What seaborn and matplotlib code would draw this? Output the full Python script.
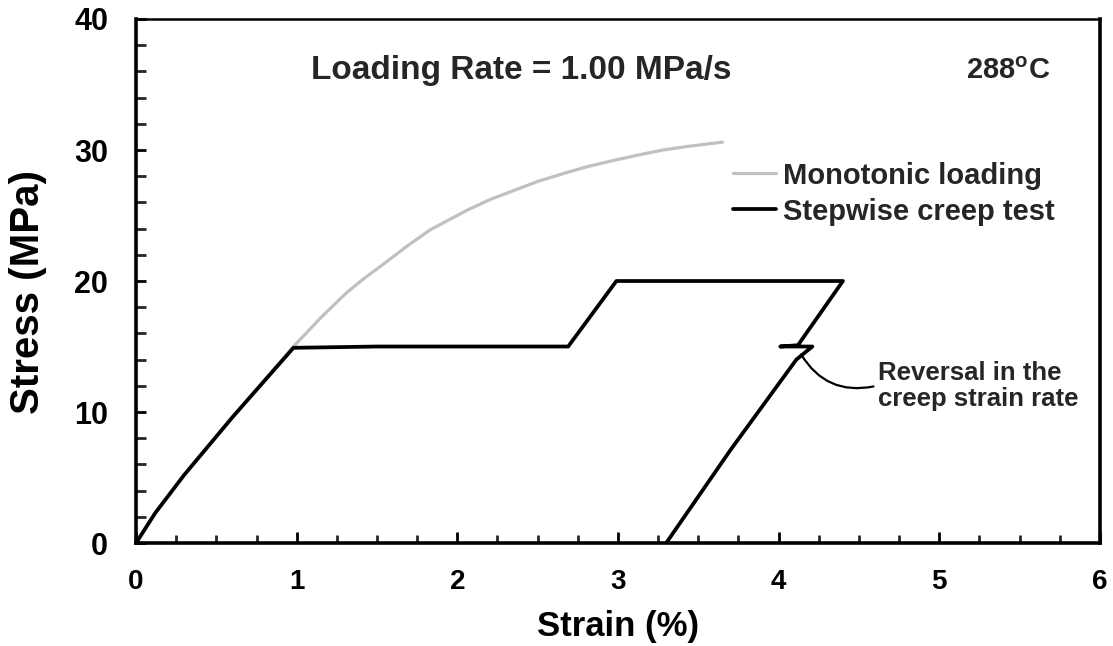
import matplotlib
matplotlib.use("Agg")
import matplotlib.pyplot as plt
import seaborn as sns
import pandas as pd
from matplotlib.ticker import MultipleLocator

# ---------------- data ----------------
mono_strain = [0, 0.12, 0.30, 0.60, 0.98, 1.05, 1.15, 1.31, 1.42, 1.52, 1.68, 1.83,
               2.06, 2.20, 2.35, 2.50, 2.66, 2.80, 2.97, 3.12, 3.28, 3.45, 3.65]
mono_stress = [0, 2.3, 5.2, 9.6, 15.0, 15.9, 17.2, 19.1, 20.2, 21.1, 22.6, 23.9,
               25.4, 26.2, 26.9, 27.6, 28.2, 28.7, 29.2, 29.6, 30.0, 30.3, 30.6]

step_strain = [0, 0.12, 0.30, 0.60, 0.98, 1.5, 2.0, 2.69, 2.99, 3.5, 4.0, 4.40,
               4.12, 4.01, 4.21, 4.11, 3.70, 3.30]
step_stress = [0, 2.3, 5.2, 9.6, 14.9, 15.0, 15.0, 15.0, 20.0, 20.0, 20.0, 20.0,
               15.1, 15.0, 15.0, 14.0, 7.1, 0.0]

series_names = ["Monotonic loading", "Stepwise creep test"]
series_colors = ["#c0c0c0", "#000000"]

x_ticks = [0, 1, 2, 3, 4, 5, 6]
y_ticks = [0, 10, 20, 30, 40]

mono_df = pd.DataFrame({"strain": mono_strain, "stress": mono_stress})
step_df = pd.DataFrame({"strain": step_strain, "stress": step_stress})

# ---------------- style ----------------
sns.set_theme(style="ticks")
plt.rcParams["font.family"] = ["Liberation Sans", "DejaVu Sans"]
plt.rcParams["font.weight"] = "bold"
plt.rcParams["mathtext.fontset"] = "custom"
plt.rcParams["mathtext.rm"] = "Liberation Sans:bold"
plt.rcParams["mathtext.bf"] = "Liberation Sans:bold"

fig = plt.figure(figsize=(11.13, 6.46), dpi=100)
ax = fig.add_axes([0.1222, 0.1594, 0.8661, 0.8112])

sns.lineplot(data=mono_df, x="strain", y="stress", sort=False, ax=ax,
             color=series_colors[0], lw=2.3, label=series_names[0])
sns.lineplot(data=step_df, x="strain", y="stress", sort=False, ax=ax,
             color=series_colors[1], lw=2.7, label=series_names[1])

ax.set_xlim(0, 6)
ax.set_ylim(0, 40)
ax.set_xticks(x_ticks)
ax.set_yticks(y_ticks)
ax.xaxis.set_minor_locator(MultipleLocator(0.25))
ax.yaxis.set_minor_locator(MultipleLocator(2))

for side in ["left", "bottom", "right", "top"]:
    ax.spines[side].set_linewidth(2.6)
    ax.spines[side].set_color("black")
ax.spines["top"].set_linewidth(1.8)

ax.tick_params(axis="x", which="major", direction="in", length=8, width=2, pad=19,
               labelsize=20, colors="black")
ax.tick_params(axis="x", which="minor", direction="in", length=6, width=2)
ax.tick_params(axis="y", which="major", direction="in", length=7, width=2, pad=20,
               labelsize=22, colors="black")
ax.tick_params(axis="y", which="minor", direction="in", length=7, width=2)
for lbl in ax.get_xticklabels() + ax.get_yticklabels():
    lbl.set_fontweight("bold")

ax.set_xlabel("Strain (%)", fontsize=25, fontweight="bold", color="black")
ax.set_ylabel("Stress (MPa)", fontsize=29, fontweight="bold", color="black")
ax.xaxis.set_label_coords(0.5, -0.128)
ax.yaxis.set_label_coords(-0.092, 0.479)

ax.text(2.40, 36.1, "Loading Rate = 1.00 MPa/s", ha="center", va="center",
        fontsize=24, fontweight="bold")
ax.text(5.43, 36.0, r"288$^{\mathrm{o}}$C", ha="center", va="center",
        fontsize=21, fontweight="bold")

ax.text(4.62, 12.0, "Reversal in the\ncreep strain rate", ha="left", va="center",
        fontsize=18.5, fontweight="bold", linespacing=1.12)
ax.annotate("", xy=(4.14, 14.4), xytext=(4.59, 11.95),
            arrowprops=dict(arrowstyle="-", color="black", lw=1.6,
                            connectionstyle="arc3,rad=-0.35", shrinkA=0, shrinkB=0))

leg = ax.legend(loc="upper left", bbox_to_anchor=(0.619, 0.728), frameon=False,
                borderpad=0, borderaxespad=0, handlelength=1.5, handletextpad=0.22,
                labelspacing=0.28, prop={"family": "Liberation Sans", "weight": "bold", "size": 21})

fig.savefig("out.png", dpi=100)
